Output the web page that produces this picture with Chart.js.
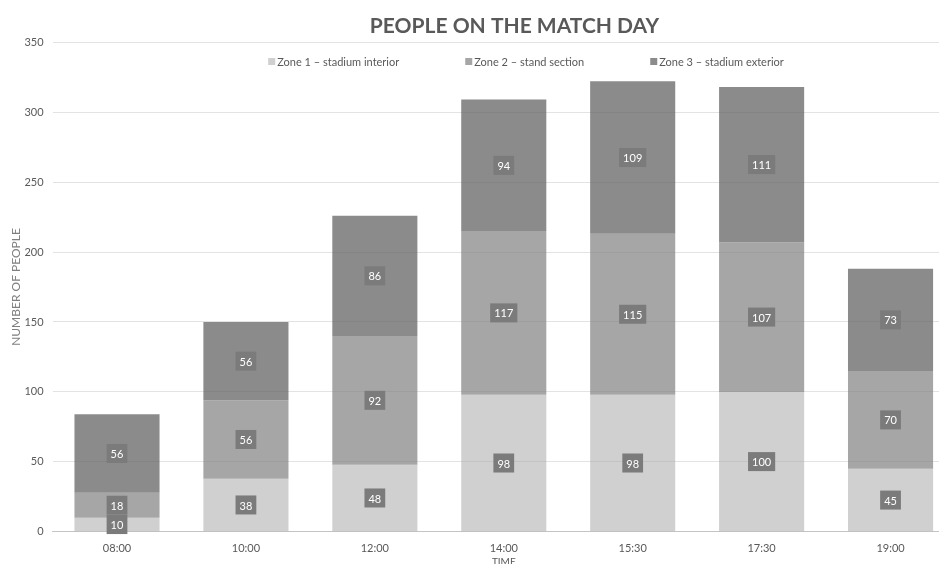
<!DOCTYPE html>
<html>
<head>
<meta charset="utf-8">
<script src="https://cdn.jsdelivr.net/npm/chart.js@4.4.1/dist/chart.umd.min.js"></script>
<style>
    html, body { margin: 0; padding: 0; background: #fff; overflow: hidden; }
    #wrap { width: 955px; height: 568px; }
</style>
</head>
<body>
<div id="wrap"><canvas id="myChart" width="955" height="568"></canvas></div>
<script>
// Daten aus dem Diagramm
const times = ['08:00', '10:00', '12:00', '14:00', '15:30', '17:30', '19:00'];
const zone1 = [10, 38, 48, 98, 98, 100, 45];
const zone2 = [18, 56, 92, 117, 115, 107, 70];
const zone3 = [56, 56, 86, 94, 109, 111, 73];
const zoneNames = ['Zone 1 \u2013 stadium interior', 'Zone 2 \u2013 stand section', 'Zone 3 \u2013 stadium exterior'];
const legendColors = ['#d0d0d0', '#a6a6a6', '#8b8b8b'];

const fontName = 'Lato, "DejaVu Sans", sans-serif';

// Werte in dunklen Kästchen mitten im Segment
const boxLabels = {
    id: 'boxLabels',
    afterDatasetsDraw(chart) {
        const ctx = chart.ctx;
        ctx.save();
        ctx.font = '11px ' + fontName;
        ctx.textAlign = 'center';
        ctx.textBaseline = 'middle';
        chart.data.datasets.forEach((ds, i) => {
            const meta = chart.getDatasetMeta(i);
            meta.data.forEach((bar, j) => {
                const v = ds.data[j];
                const cy = (bar.y + bar.base) / 2;
                const w = ctx.measureText(String(v)).width + 8;
                const h = 19;
                ctx.fillStyle = '#7b7b7b';
                ctx.fillRect(bar.x - w / 2, cy - h / 2, w, h);
                ctx.fillStyle = '#ffffff';
                ctx.fillText(String(v), bar.x, cy + 1);
            });
        });
        ctx.restore();
    }
};

// Legende von Hand, eine Zeile mit breiten Abständen
const zoneLegend = {
    id: 'zoneLegend',
    afterDraw(chart) {
        const ctx = chart.ctx;
        ctx.save();
        ctx.font = '11px ' + fontName;
        ctx.textBaseline = 'middle';
        ctx.textAlign = 'left';
        const gap = 66;
        const widths = zoneNames.map(n => 9 + ctx.measureText(n).width);
        const total = widths.reduce((a, b) => a + b, 0) + gap * (widths.length - 1);
        let x = 526 - total / 2;
        const y = 62;
        zoneNames.forEach((n, i) => {
            ctx.fillStyle = legendColors[i];
            ctx.fillRect(x, y - 4, 7, 7);
            ctx.fillStyle = '#595959';
            ctx.fillText(n, x + 9, y);
            x += widths[i] + gap;
        });
        ctx.restore();
    }
};

// Titel etwas nach rechts wie im Original
const nudge = {
    id: 'nudge',
    beforeDraw(chart) {
        const tb = chart.titleBlock;
        tb.left = 37;
        tb.right = chart.width + 37;
    }
};

const ctx = document.getElementById('myChart').getContext('2d');

new Chart(ctx, {
    type: 'bar',
    data: {
        labels: times,
        datasets: [
            { label: zoneNames[0], data: zone1, backgroundColor: 'rgba(170,170,170,0.55)' },
            { label: zoneNames[1], data: zone2, backgroundColor: 'rgba(128,128,128,0.7)' },
            { label: zoneNames[2], data: zone3, backgroundColor: 'rgba(100,100,100,0.75)' }
        ]
    },
    options: {
        responsive: false,
        animation: false,
        layout: { padding: 0 },
        datasets: {
            bar: { barPercentage: 0.66, categoryPercentage: 1.0, borderWidth: 0 }
        },
        plugins: {
            title: {
                display: true,
                text: 'PEOPLE ON THE MATCH DAY',
                color: '#595959',
                font: { family: fontName, size: 21, weight: 'bold' },
                padding: { top: 14, bottom: 3 }
            },
            legend: { display: false },
            tooltip: { enabled: false }
        },
        scales: {
            x: {
                stacked: true,
                grid: { display: false, drawTicks: false },
                border: { display: true, color: '#c4c4c4' },
                ticks: { color: '#595959', font: { family: fontName, size: 11 }, padding: 10 },
                title: {
                    display: true,
                    text: 'TIME',
                    color: '#595959',
                    font: { family: fontName, size: 10 },
                    padding: { top: -9, bottom: 0 }
                }
            },
            y: {
                stacked: true,
                min: 0,
                max: 350,
                ticks: { stepSize: 50, color: '#595959', font: { family: fontName, size: 11 }, padding: 9 },
                grid: { color: '#e3e3e3', drawTicks: false },
                border: { display: false },
                title: {
                    display: true,
                    text: 'NUMBER OF PEOPLE',
                    color: '#7f7f7f',
                    font: { family: fontName, size: 12 },
                    padding: { top: 9, bottom: -8 }
                }
            }
        }
    },
    plugins: [boxLabels, zoneLegend, nudge]
});
</script>
</body>
</html>
